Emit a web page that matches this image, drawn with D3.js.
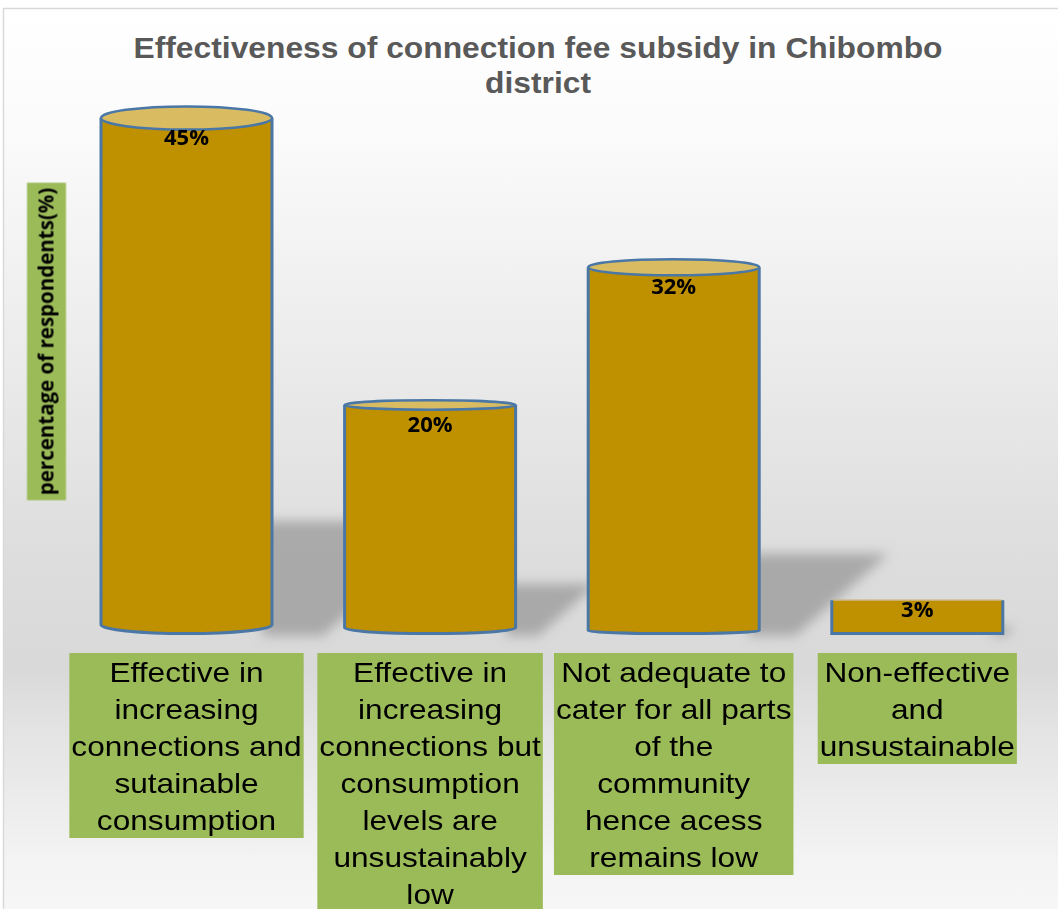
<!DOCTYPE html>
<html>
<head>
<meta charset="utf-8">
<script src="https://cdn.jsdelivr.net/npm/d3@7"></script>
<style>
  html, body { margin: 0; padding: 0; background: #ffffff; }
  svg { display: block; }
</style>
</head>
<body>
<script>
// Survey responses: effectiveness of the connection fee subsidy
const categories = [
  "Effective in increasing connections and sutainable consumption",
  "Effective in increasing connections but consumption levels are unsustainably low",
  "Not adequate to cater for all parts of the community hence acess remains low",
  "Non-effective and unsustainable"
];
// Wrapped lines of each category label, as they appear under the bars
const categoryLines = [
  ["Effective in", "increasing", "connections and", "sutainable", "consumption"],
  ["Effective in", "increasing", "connections but", "consumption", "levels are", "unsustainably", "low"],
  ["Not adequate to", "cater for all parts", "of the", "community", "hence acess", "remains low"],
  ["Non-effective", "and", "unsustainable"]
];
const values = [45, 20, 32, 3];
const titleLines = ["Effectiveness of connection fee subsidy in Chibombo", "district"];
const yAxisTitle = "percentage of respondents(%)";

const W = 1058, H = 909;
const svg = d3.select("body").append("svg").attr("width", W).attr("height", H);
const defs = svg.append("defs");

// chart background: soft vertical grey gradient
const bg = defs.append("linearGradient").attr("id", "bgGrad")
  .attr("x1", 0).attr("y1", 0).attr("x2", 0).attr("y2", 1);
[[0, "#ffffff"], [0.12, "#fbfbfb"], [0.35, "#ebebeb"], [0.55, "#dddddd"], [0.66, "#d9d9d9"],
 [0.72, "#e3e3e3"], [0.85, "#f3f3f3"], [1, "#ffffff"]]
  .forEach(([o, c]) => bg.append("stop").attr("offset", o).attr("stop-color", c));

const blur = defs.append("filter").attr("id", "shadowBlur")
  .attr("x", "-30%").attr("y", "-30%").attr("width", "160%").attr("height", "160%");
blur.append("feGaussianBlur").attr("stdDeviation", 6);

svg.append("rect").attr("x", 3.5).attr("y", 8.5).attr("width", 1100).attr("height", 1000)
  .attr("fill", "url(#bgGrad)").attr("stroke", "#d9d9d9").attr("stroke-width", 1.5);

// scales
const x = d3.scaleBand().domain(categories).range([64.7, 1039.1])
  .paddingInner(0.298).paddingOuter(0.149);
const y = d3.scaleLinear().domain([0, 50]).range([634.6, 60.6]);

const eyeY = 600;      // horizon used for the cylinder perspective
const eyeX = 917;
const rows = categories.map((c, i) => ({ cat: c, value: values[i], lines: categoryLines[i] }));

// cast shadows behind the cylinders
const shadowG = svg.append("g").attr("filter", "url(#shadowBlur)");
rows.forEach(d => {
  const xr = x(d.cat) + x.bandwidth();
  const base = y(0);
  const hs = (y(0) - y(d.value)) * 0.22;
  shadowG.append("polygon")
    .attr("points", [
      [xr - 10, base + 1], [xr - 10, base - hs],
      [xr + 1.6 * hs, base - hs], [xr + 0.45 * hs, base + 1]
    ].map(p => p.join(",")).join(" "))
    .attr("fill", "#9c9c9c").attr("opacity", 0.8);
});

// cylinders
const bars = svg.append("g");
rows.forEach(d => {
  const xl = x(d.cat), xr = xl + x.bandwidth(), rx = x.bandwidth() / 2, cx = xl + rx;
  const yt = y(d.value);
  const ryT = Math.max(0, (eyeY - yt) * 0.024);
  const ryB = Math.max(0, (eyeX - cx) * 0.012);
  const yb = y(0) - 1 - ryB;
  const body = `M${xl},${yt} L${xl},${yb} A${rx},${ryB} 0 0 0 ${xr},${yb} L${xr},${yt}`;
  bars.append("path").attr("d", body + " Z").attr("fill", "#bf9000");
  bars.append("path").attr("d", body).attr("fill", "none")
    .attr("stroke", "#4a77a5").attr("stroke-width", 3);
  if (ryT > 0.5) {
    bars.append("ellipse").attr("cx", cx).attr("cy", yt).attr("rx", rx).attr("ry", ryT)
      .attr("fill", "#d9bc62").attr("stroke", "#4a77a5").attr("stroke-width", 2.5);
  } else {
    bars.append("line").attr("x1", xl + 1.5).attr("x2", xr - 1.5).attr("y1", yt).attr("y2", yt)
      .attr("stroke", "#c9b070").attr("stroke-width", 1.5);
  }
  bars.append("text").attr("x", cx).attr("y", Math.min(yt + 27, y(0) - 18))
    .attr("text-anchor", "middle")
    .attr("font-family", "'Open Sans', sans-serif").attr("font-weight", 700)
    .attr("font-size", 22).attr("fill", "#000000")
    .text(d.value + "%");
});

// category labels in green boxes
const labelG = svg.append("g");
const sx = 1.13, firstBase = 682, lineStep = 37;
rows.forEach(d => {
  const cx = x(d.cat) + x.bandwidth() / 2;
  const g = labelG.append("g");
  const box = g.append("rect").attr("fill", "#9bbb59");
  let maxW = 0;
  d.lines.forEach((ln, j) => {
    const t = g.append("text")
      .attr("transform", `translate(${cx},${firstBase + j * lineStep}) scale(${sx},1)`)
      .attr("text-anchor", "middle")
      .attr("font-family", "'Liberation Sans', Arial, sans-serif")
      .attr("font-size", 28).attr("fill", "#000000").text(ln);
    maxW = Math.max(maxW, t.node().getComputedTextLength() * sx);
  });
  const top = 653, bottom = firstBase + (d.lines.length - 1) * lineStep + 8;
  box.attr("x", cx - maxW / 2 - 2).attr("y", top).attr("width", maxW + 4).attr("height", bottom - top);
});

// y axis title
const yg = svg.append("g").attr("transform", "translate(46.5,341.5) rotate(-90)");
const yBox = yg.append("rect").attr("fill", "#9bbb59");
const yt = yg.append("text").attr("text-anchor", "middle").attr("y", 7)
  .attr("font-family", "'Open Sans', sans-serif").attr("font-weight", 700)
  .attr("font-size", 20.5).attr("fill", "#000000").text(yAxisTitle);
const yLen = yt.node().getComputedTextLength();
yBox.attr("x", -yLen / 2 - 5).attr("y", -19.5).attr("width", yLen + 10).attr("height", 39);

// title
titleLines.forEach((ln, i) => {
  svg.append("text")
    .attr("transform", `translate(538,${58 + i * 35}) scale(1.06,1)`)
    .attr("text-anchor", "middle")
    .attr("font-family", "'Liberation Sans', Arial, sans-serif").attr("font-weight", 700)
    .attr("font-size", 30).attr("fill", "#595959").text(ln);
});
</script>
</body>
</html>
